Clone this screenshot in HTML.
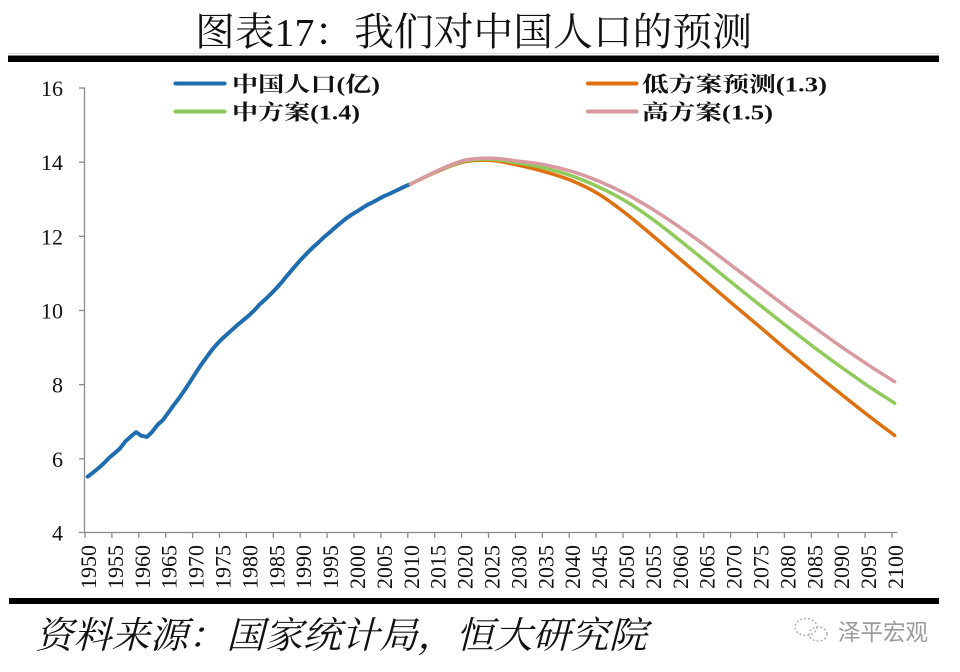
<!DOCTYPE html>
<html>
<head>
<meta charset="utf-8">
<style>
  html, body { margin: 0; padding: 0; background: #ffffff; }
  svg { display: block; }
  .ser { font-family: "Liberation Serif", "Noto Serif CJK SC", serif; }
  .san { font-family: "Liberation Sans", "Noto Sans CJK SC", sans-serif; }
</style>
</head>
<body>
<svg width="960" height="672" viewBox="0 0 960 672" xmlns="http://www.w3.org/2000/svg">
  <rect x="0" y="0" width="960" height="672" fill="#ffffff"/>

  <!-- Title -->
  <text class="ser" x="195" y="45.5" font-size="39" fill="#111" textLength="557" lengthAdjust="spacingAndGlyphs">图表17：我们对中国人口的预测</text>
  <rect x="8" y="53" width="931" height="1" fill="#d8d8d8"/>
  <rect x="8" y="55.5" width="931" height="6.5" fill="#000"/>

  <!-- Legend -->
  <line x1="175.5" y1="83.5" x2="224.5" y2="83.5" stroke="#1f6cae" stroke-width="4" stroke-linecap="round"/>
  <text class="ser" x="232" y="91.5" font-size="21" font-weight="bold" fill="#111" textLength="148" lengthAdjust="spacingAndGlyphs">中国人口(亿)</text>
  <line x1="175.5" y1="111.5" x2="224.5" y2="111.5" stroke="#8fca5a" stroke-width="4" stroke-linecap="round"/>
  <text class="ser" x="232" y="119.5" font-size="21" font-weight="bold" fill="#111" textLength="128" lengthAdjust="spacingAndGlyphs">中方案(1.4)</text>
  <line x1="588" y1="83.5" x2="636.5" y2="83.5" stroke="#df700f" stroke-width="4" stroke-linecap="round"/>
  <text class="ser" x="642" y="91.5" font-size="21" font-weight="bold" fill="#111" textLength="185" lengthAdjust="spacingAndGlyphs">低方案预测(1.3)</text>
  <line x1="588" y1="111.5" x2="636.5" y2="111.5" stroke="#d89aa0" stroke-width="4" stroke-linecap="round"/>
  <text class="ser" x="642" y="119.5" font-size="21" font-weight="bold" fill="#111" textLength="131" lengthAdjust="spacingAndGlyphs">高方案(1.5)</text>

  <!-- Axes -->
  <g stroke="#8a8a8a" stroke-width="1.3" fill="none">
    <line x1="84.5" y1="88" x2="84.5" y2="533"/>
    <line x1="84.5" y1="532.5" x2="897.4" y2="532.5"/>
    <line x1="79" y1="88" x2="85" y2="88"/>
    <line x1="79" y1="162.2" x2="85" y2="162.2"/>
    <line x1="79" y1="236.3" x2="85" y2="236.3"/>
    <line x1="79" y1="310.5" x2="85" y2="310.5"/>
    <line x1="79" y1="384.7" x2="85" y2="384.7"/>
    <line x1="79" y1="458.8" x2="85" y2="458.8"/>
    <line x1="79" y1="532.5" x2="85" y2="532.5"/>
    <path d="M85 532v6M111.9 532v6M138.8 532v6M165.7 532v6M192.6 532v6M219.5 532v6M246.4 532v6M273.3 532v6M300.2 532v6M327.1 532v6M354 532v6M380.9 532v6M407.8 532v6M434.7 532v6M461.6 532v6M488.5 532v6M515.4 532v6M542.3 532v6M569.2 532v6M596.1 532v6M623 532v6M649.9 532v6M676.8 532v6M703.7 532v6M730.6 532v6M757.5 532v6M784.4 532v6M811.3 532v6M838.2 532v6M865.1 532v6M892 532v6"/>
  </g>

  <!-- Y labels -->
  <g class="ser" font-size="22" fill="#111" text-anchor="end">
    <text x="63" y="96">16</text>
    <text x="63" y="170.2">14</text>
    <text x="63" y="244.3">12</text>
    <text x="63" y="318.5">10</text>
    <text x="63" y="392.7">8</text>
    <text x="63" y="466.8">6</text>
    <text x="63" y="540.5">4</text>
  </g>

  <!-- X labels -->
  <g class="ser" font-size="22" fill="#111" text-anchor="end">
    <text transform="translate(96,545) rotate(-90)">1950</text>
    <text transform="translate(122.9,545) rotate(-90)">1955</text>
    <text transform="translate(149.8,545) rotate(-90)">1960</text>
    <text transform="translate(176.7,545) rotate(-90)">1965</text>
    <text transform="translate(203.6,545) rotate(-90)">1970</text>
    <text transform="translate(230.5,545) rotate(-90)">1975</text>
    <text transform="translate(257.4,545) rotate(-90)">1980</text>
    <text transform="translate(284.3,545) rotate(-90)">1985</text>
    <text transform="translate(311.2,545) rotate(-90)">1990</text>
    <text transform="translate(338.1,545) rotate(-90)">1995</text>
    <text transform="translate(365,545) rotate(-90)">2000</text>
    <text transform="translate(391.9,545) rotate(-90)">2005</text>
    <text transform="translate(418.8,545) rotate(-90)">2010</text>
    <text transform="translate(445.7,545) rotate(-90)">2015</text>
    <text transform="translate(472.6,545) rotate(-90)">2020</text>
    <text transform="translate(499.5,545) rotate(-90)">2025</text>
    <text transform="translate(526.4,545) rotate(-90)">2030</text>
    <text transform="translate(553.3,545) rotate(-90)">2035</text>
    <text transform="translate(580.2,545) rotate(-90)">2040</text>
    <text transform="translate(607.1,545) rotate(-90)">2045</text>
    <text transform="translate(634,545) rotate(-90)">2050</text>
    <text transform="translate(660.9,545) rotate(-90)">2055</text>
    <text transform="translate(687.8,545) rotate(-90)">2060</text>
    <text transform="translate(714.7,545) rotate(-90)">2065</text>
    <text transform="translate(741.6,545) rotate(-90)">2070</text>
    <text transform="translate(768.5,545) rotate(-90)">2075</text>
    <text transform="translate(795.4,545) rotate(-90)">2080</text>
    <text transform="translate(822.3,545) rotate(-90)">2085</text>
    <text transform="translate(849.2,545) rotate(-90)">2090</text>
    <text transform="translate(876.1,545) rotate(-90)">2095</text>
    <text transform="translate(903,545) rotate(-90)">2100</text>
  </g>

  <!-- Series (data coords: x = years since 1950, y = value) -->
  <g transform="translate(87.69,681.32) scale(5.38,-37.08)" fill="none" stroke-linejoin="round" stroke-linecap="round">
    <polyline vector-effect="non-scaling-stroke" stroke="#1f6cae" stroke-width="4"
      points="0,5.52 1,5.63 2,5.75 3,5.88 4,6.03 5,6.15 6,6.28 7,6.47 8,6.60 9,6.72 10,6.62 11,6.59 12,6.73 13,6.92 14,7.05 15,7.25 16,7.45 17,7.64 18,7.85 19,8.07 20,8.30 21,8.52 22,8.72 23,8.92 24,9.09 25,9.24 26,9.37 27,9.50 28,9.63 29,9.75 30,9.87 31,10.01 32,10.17 33,10.30 34,10.44 35,10.59 36,10.75 37,10.93 38,11.10 39,11.27 40,11.43 41,11.58 42,11.72 43,11.85 44,11.99 45,12.11 46,12.24 47,12.36 48,12.48 49,12.58 50,12.67 51,12.76 52,12.85 53,12.92 54,13.00 55,13.08 56,13.14 57,13.21 58,13.28 59,13.35 60,13.41"/>
    <path vector-effect="non-scaling-stroke" stroke="#df700f" stroke-width="3.5"
      d="M60,13.41 C61.667,13.523 63.333,13.65 65,13.75 C66.667,13.85 68.333,13.96 70,14.01 C71.667,14.06 73.333,14.065 75,14.05 C76.667,14.035 78.333,13.972 80,13.92 C81.667,13.868 83.333,13.81 85,13.74 C86.667,13.67 88.333,13.60 90,13.50 C91.667,13.40 93.333,13.287 95,13.14 C96.667,12.993 98.333,12.807 100,12.62 C101.667,12.433 103.333,12.223 105,12.02 C106.667,11.817 108.333,11.607 110,11.40 C111.667,11.193 113.333,10.987 115,10.78 C116.667,10.573 118.333,10.365 120,10.16 C121.667,9.955 123.333,9.755 125,9.55 C126.667,9.345 128.333,9.133 130,8.93 C131.667,8.727 133.333,8.527 135,8.33 C136.667,8.133 138.333,7.942 140,7.75 C141.667,7.558 143.333,7.367 145,7.18 C146.667,6.993 148.333,6.813 150,6.63"/>
    <path vector-effect="non-scaling-stroke" stroke="#8fca5a" stroke-width="3.5"
      d="M60,13.41 C61.667,13.527 63.333,13.657 65,13.76 C66.667,13.863 68.333,13.977 70,14.03 C71.667,14.083 73.333,14.088 75,14.08 C76.667,14.072 78.333,14.02 80,13.98 C81.667,13.94 83.333,13.898 85,13.84 C86.667,13.782 88.333,13.715 90,13.63 C91.667,13.545 93.333,13.443 95,13.33 C96.667,13.217 98.333,13.095 100,12.95 C101.667,12.805 103.333,12.635 105,12.46 C106.667,12.285 108.333,12.092 110,11.90 C111.667,11.708 113.333,11.507 115,11.31 C116.667,11.113 118.333,10.915 120,10.72 C121.667,10.525 123.333,10.332 125,10.14 C126.667,9.948 128.333,9.758 130,9.57 C131.667,9.382 133.333,9.192 135,9.01 C136.667,8.828 138.333,8.653 140,8.48 C141.667,8.307 143.333,8.133 145,7.97 C146.667,7.807 148.333,7.657 150,7.50"/>
    <path vector-effect="non-scaling-stroke" stroke="#d89aa0" stroke-width="3.5"
      d="M60,13.41 C61.667,13.53 63.333,13.663 65,13.77 C66.667,13.877 68.333,13.993 70,14.05 C71.667,14.107 73.333,14.113 75,14.11 C76.667,14.107 78.333,14.06 80,14.03 C81.667,14.0 83.333,13.977 85,13.93 C86.667,13.883 88.333,13.823 90,13.75 C91.667,13.677 93.333,13.59 95,13.49 C96.667,13.39 98.333,13.277 100,13.15 C101.667,13.023 103.333,12.88 105,12.73 C106.667,12.58 108.333,12.417 110,12.25 C111.667,12.083 113.333,11.908 115,11.73 C116.667,11.552 118.333,11.363 120,11.18 C121.667,10.997 123.333,10.813 125,10.63 C126.667,10.447 128.333,10.26 130,10.08 C131.667,9.90 133.333,9.725 135,9.55 C136.667,9.375 138.333,9.198 140,9.03 C141.667,8.862 143.333,8.698 145,8.54 C146.667,8.382 148.333,8.233 150,8.08"/>
  </g>

  <!-- Footer -->
  <rect x="9" y="598" width="930" height="6" fill="#000"/>
  <text class="ser" x="35" y="648" font-size="37" font-style="italic" fill="#111" textLength="612" lengthAdjust="spacingAndGlyphs">资料来源：国家统计局，恒大研究院</text>

  <!-- Watermark -->
  <g fill="none" stroke="#a8a8a8" stroke-width="1.3" stroke-dasharray="2 2">
    <ellipse cx="806" cy="627" rx="11" ry="8.5"/>
    <ellipse cx="818" cy="634" rx="9" ry="7"/>
  </g>
  <text class="san" x="838" y="640" font-size="23" fill="#9a9a9a" textLength="90" lengthAdjust="spacingAndGlyphs">泽平宏观</text>
</svg>
</body>
</html>
